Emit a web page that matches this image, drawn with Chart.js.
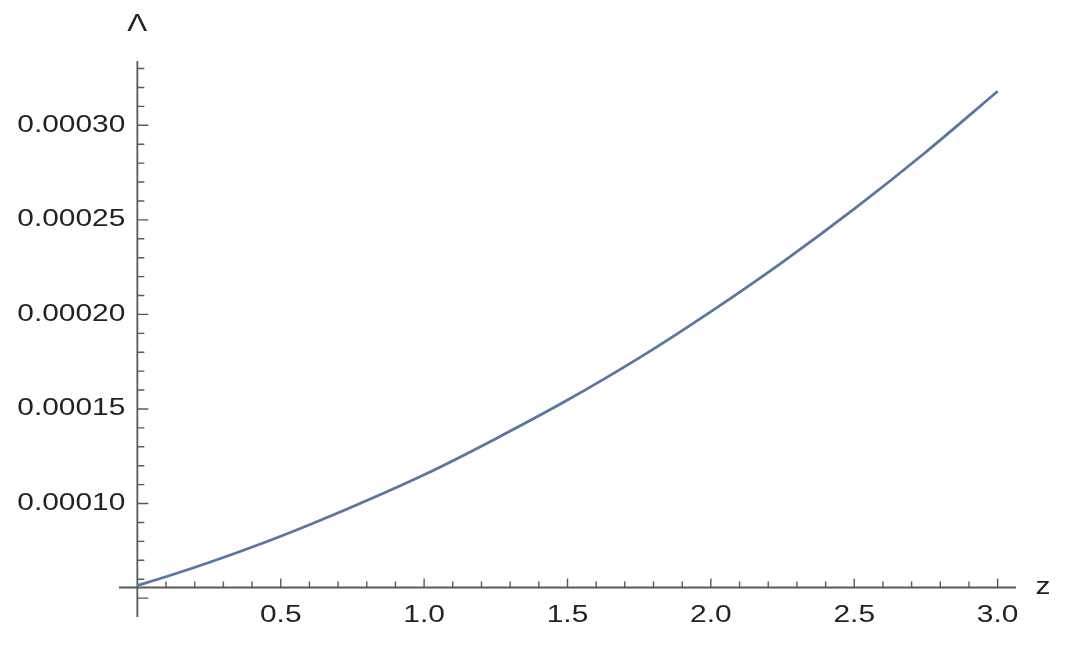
<!DOCTYPE html>
<html>
<head>
<meta charset="utf-8">
<title>Lambda vs z</title>
<script src="https://cdn.jsdelivr.net/npm/chart.js@4"></script>
<style>
    html, body { margin: 0; padding: 0; background: #ffffff; }
    canvas { display: block; }
</style>
</head>
<body>
<canvas id="lambdaChart" width="1070" height="646"></canvas>
<script>
// Curve
const zValues = [0, 0.1, 0.25, 0.5, 0.75, 1.0, 1.25, 1.5, 1.75, 2.0, 2.25, 2.5, 2.75, 3.0];
const lambdaValues = [0.0000567, 0.0000613, 0.0000688, 0.0000827, 0.0000983, 0.0001152, 0.0001343,
    0.0001547, 0.000177, 0.0002015, 0.0002277, 0.0002558, 0.0002859, 0.000318];

// Axis ticks
const xTicks = [0.5, 1.0, 1.5, 2.0, 2.5, 3.0];
const xTickLabels = ['0.5', '1.0', '1.5', '2.0', '2.5', '3.0'];
const yTicks = [0.0001, 0.00015, 0.0002, 0.00025, 0.0003];
const yTickLabels = ['0.00010', '0.00015', '0.00020', '0.00025', '0.00030'];

document.addEventListener('DOMContentLoaded', function() {
    const axisColor = '#5a5a5a';
    const textColor = '#222222';
    const crossY = 0.0000556;   // where the z axis crosses the Λ axis

    function drawText(ctx, text, x, y, align) {
        ctx.save();
        ctx.translate(x, y);
        ctx.scale(1.3, 1);
        ctx.textAlign = align;
        ctx.textBaseline = 'middle';
        ctx.fillText(text, 0, 0);
        ctx.restore();
    }

    // Mathematica style axes: crossing lines, inward ticks
    const axesPlugin = {
        id: 'axes',
        beforeDatasetsDraw(chart) {
            const ctx = chart.ctx;
            const xs = chart.scales.x;
            const ys = chart.scales.y;
            const area = chart.chartArea;
            const x0 = xs.getPixelForValue(0);
            const y0 = ys.getPixelForValue(crossY);

            ctx.save();
            ctx.strokeStyle = axisColor;
            ctx.lineWidth = 1.8;
            ctx.beginPath();
            ctx.moveTo(area.left, y0);
            ctx.lineTo(area.right, y0);
            ctx.moveTo(x0, area.top);
            ctx.lineTo(x0, area.bottom);
            ctx.stroke();

            ctx.lineWidth = 1.4;
            ctx.beginPath();
            // z ticks, every 0.1
            for (let i = 1; i <= 30; i++) {
                const px = xs.getPixelForValue(i / 10);
                const len = i % 5 === 0 ? 9 : 6;
                ctx.moveTo(px, y0);
                ctx.lineTo(px, y0 - len);
            }
            // Λ ticks, every 0.00001
            for (let i = 5; i <= 33; i++) {
                const py = ys.getPixelForValue(i * 0.00001);
                const len = i % 5 === 0 ? 11 : 7;
                ctx.moveTo(x0, py);
                ctx.lineTo(x0 + len, py);
            }
            ctx.stroke();

            ctx.fillStyle = textColor;
            ctx.font = '23px "Liberation Sans", Arial, sans-serif';
            xTicks.forEach((v, i) => {
                drawText(ctx, xTickLabels[i], xs.getPixelForValue(v), y0 + 28, 'center');
            });
            yTicks.forEach((v, i) => {
                drawText(ctx, yTickLabels[i], x0 - 12, ys.getPixelForValue(v), 'right');
            });

            drawText(ctx, 'Λ', x0, 25, 'center');
            drawText(ctx, 'z', area.right + 27, y0, 'center');
            ctx.restore();
        }
    };

    const ctx = document.getElementById('lambdaChart').getContext('2d');
    const lambdaChart = new Chart(ctx, {
        type: 'line',
        data: {
            datasets: [{
                data: zValues.map((z, i) => ({ x: z, y: lambdaValues[i] })),
                borderColor: '#5b76a3',
                borderWidth: 2.8,
                pointRadius: 0,
                fill: false,
                cubicInterpolationMode: 'monotone'
            }]
        },
        options: {
            responsive: false,
            animation: false,
            devicePixelRatio: 1,
            layout: {
                padding: { left: 119, right: 54, top: 61, bottom: 29 }
            },
            plugins: {
                legend: { display: false },
                tooltip: { enabled: false }
            },
            scales: {
                x: { type: 'linear', min: -0.064, max: 3.064, display: false },
                y: { type: 'linear', min: 0.00004, max: 0.000334, display: false }
            }
        },
        plugins: [axesPlugin]
    });
});
</script>
</body>
</html>
